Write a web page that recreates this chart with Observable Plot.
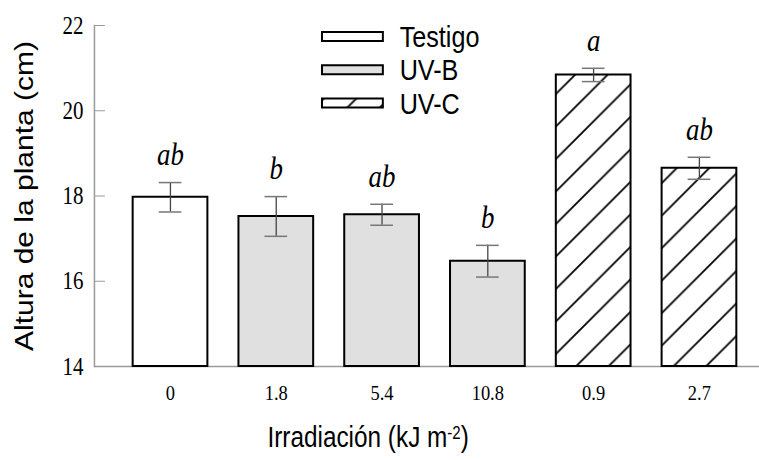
<!DOCTYPE html>
<html><head><meta charset="utf-8">
<script src="https://cdn.jsdelivr.net/npm/d3@7"></script>
<script src="https://cdn.jsdelivr.net/npm/@observablehq/plot@0.6"></script>
<style>
body{margin:0;background:#fff;}
#chart svg path, #chart svg line, #chart svg rect {vector-effect: non-scaling-stroke;}
</style></head><body><div id="chart"></div>
<script>
// Data
const doses = ["0", "1.8", "5.4", "10.8", "0.9", "2.7"];
const groups = ["Testigo", "UV-B", "UV-B", "UV-B", "UV-C", "UV-C"];
const means = [17.97, 17.52, 17.56, 16.47, 20.84, 18.65];
const errors = [0.345, 0.466, 0.246, 0.372, 0.156, 0.258];
const letters = ["ab", "b", "ab", "b", "a", "ab"];
const yTicks = [14, 16, 18, 20, 22];
const legendLabels = ["Testigo", "UV-B", "UV-C"];
const yTitle = "Altura de la planta (cm)";
const xTitle = "Irradiación (kJ m-2)";

const W = 904, H = 460, OUTW = 759;
const fills = {"Testigo": "white", "UV-B": "#e0e0e0", "UV-C": "url(#hatch)"};
const serif = "'Liberation Serif', 'Times New Roman', serif";
const sans = "'Liberation Sans', Arial, sans-serif";

const table = doses.map((d, i) => ({
  dose: d, group: groups[i], mean: means[i],
  lo: means[i] - errors[i], hi: means[i] + errors[i], letter: letters[i]
}));

const chart = Plot.plot({
  width: W, height: H,
  marginTop: 25, marginBottom: 94, marginLeft: 112, marginRight: 0,
  style: {fontFamily: sans, background: "white", color: "black"},
  x: {domain: doses, range: [157, 878], paddingInner: 0.29, paddingOuter: 0, label: null},
  y: {domain: [14, 22], label: null},
  color: {type: "identity"},
  marks: [
    Plot.ruleY([14], {stroke: "#9a9a9a", strokeWidth: 1.5}),
    Plot.frame({anchor: "left", stroke: "#9a9a9a", strokeWidth: 1.5}),
    Plot.barY(table, {x: "dose", y1: 14, y2: "mean", fill: d => fills[d.group], stroke: "black", strokeWidth: 2}),
    Plot.ruleX(table, {x: "dose", y1: "lo", y2: "hi", stroke: "#444", strokeWidth: 1.3}),
    Plot.tickY(table, {x: "dose", y: "hi", insetLeft: 31, insetRight: 31, stroke: "#777", strokeWidth: 1.5}),
    Plot.tickY(table, {x: "dose", y: "lo", insetLeft: 31, insetRight: 31, stroke: "#777", strokeWidth: 1.5}),
    Plot.text(table, {x: "dose", y: "hi", text: "letter", dy: -28, fontStyle: "italic", fontFamily: serif, fontSize: 32}),
    Plot.axisX({tickSize: 0, tickPadding: 18, fontFamily: serif, fontSize: 22, label: null}),
    Plot.axisY({ticks: yTicks, tickSize: -13, tickPadding: 26, fontFamily: serif, fontSize: 25, stroke: "#9a9a9a", label: null}),
    Plot.text([yTitle], {frameAnchor: "left", textAnchor: "middle", rotate: -90, dx: -83, fontSize: 30, fontFamily: sans}),
    Plot.text([xTitle], {frameAnchor: "bottom", textAnchor: "middle", dx: -70, dy: 80.7, fontSize: 29, fontFamily: sans})
  ]
});

const svg = d3.select(chart);
// hatch pattern
const pw = 38.7, ph = 32.5;
const pat = svg.insert("defs", ":first-child").append("pattern")
  .attr("id", "hatch").attr("patternUnits", "userSpaceOnUse")
  .attr("width", pw).attr("height", ph);
pat.append("rect").attr("width", pw).attr("height", ph).attr("fill", "white");
pat.append("path")
  .attr("d", `M0,${ph} L${pw},0 M${-pw/4},${ph/4} L${pw/4},${-ph/4} M${3*pw/4},${5*ph/4} L${5*pw/4},${3*ph/4}`)
  .attr("stroke", "black").attr("stroke-width", 1.8).attr("fill", "none");

// superscript in x title
svg.selectAll("text").filter(function() { return this.textContent === xTitle; }).each(function() {
  const t = d3.select(this);
  t.text(null);
  t.append("tspan").text("Irradiación (kJ m");
  t.append("tspan").attr("dy", "-0.45em").attr("font-size", "0.62em").text("-2");
  t.append("tspan").attr("dy", "0.28em").text(")");
});

// legend
const lg = svg.append("g").attr("class", "legend").attr("text-anchor", "start");
legendLabels.forEach((lab, i) => {
  const cy = 36.5 + i * 33.3;
  lg.append("rect").attr("x", 383.5).attr("y", cy - 4.5).attr("width", 72.5).attr("height", 9)
    .attr("fill", fills[lab]).attr("stroke", "black").attr("stroke-width", 2);
  lg.append("text").attr("x", 476).attr("y", cy).attr("dy", "0.35em").attr("text-anchor", "start")
    .attr("font-size", 30).attr("font-family", sans).attr("fill", "black").text(lab);
});

// horizontal squeeze to match the reference aspect
chart.setAttribute("viewBox", `0 0 ${W} ${H}`);
chart.setAttribute("preserveAspectRatio", "none");
chart.setAttribute("width", OUTW);
chart.setAttribute("height", H);
chart.style.width = OUTW + "px";
chart.style.height = H + "px";
chart.style.maxWidth = "none";
document.getElementById("chart").appendChild(chart);
</script>
</body></html>
